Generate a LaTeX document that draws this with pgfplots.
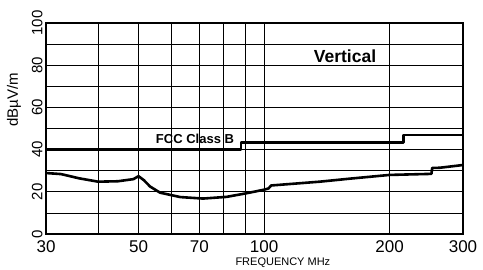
\documentclass[border=0pt]{standalone}
\usepackage{fontspec}
\setmainfont{Liberation Sans}
\usepackage{pgfplots}
\pgfplotsset{compat=1.18}
\begin{document}
\begin{tikzpicture}
\begin{semilogxaxis}[
  name=ax,
  width=417pt, height=211pt, scale only axis,
  xmin=30, xmax=300, ymin=0, ymax=100,
  xtick={30,40,50,60,70,80,90,100,200,300},
  xticklabels={30,,50,,70,,,100,200,300},
  minor xtick={},
  ytick={0,20,40,60,80,100},
  minor ytick={10,30,50,70,90},
  grid=both,
  major grid style={black, line width=0.8pt},
  minor grid style={black, line width=0.8pt},
  major tick length=0pt, minor tick length=0pt,
  axis line style={black, line width=1.2pt},
  /pgf/number format/assume math mode=true,
  xticklabel style={font=\fontsize{17}{17}\selectfont, yshift=-3pt},
  yticklabel style={font=\fontsize{15}{15}\selectfont, rotate=90, anchor=south},
  xlabel={FREQUENCY MHz},
  xlabel style={at={(axis description cs:0.568,-0.137)}, anchor=center, font=\fontsize{11}{11}\selectfont},
  ylabel={dBµV/m},
  ylabel style={at={(axis description cs:-0.077,0.635)}, anchor=center, font=\fontsize{15}{15}\selectfont},
  clip=false,
]
\addplot[black, line width=2.6pt, line join=round] coordinates {
  (30,40) (88,40) (88,43.3) (216,43.3) (216,47) (300,47)
};
\addplot[black, line width=2.6pt, line join=round] coordinates {
  (30,28.9) (32.6,28.4) (36,26.4) (40,24.8) (44.6,25.0) (48.6,26.0) (50,27.4)
  (51.5,25.5) (53.3,22.5) (56.3,19.6) (60,18.4) (63,17.5) (71.4,16.8)
  (81.3,17.6) (90.7,19.3) (100,21.0) (102.5,21.6) (104,23.0) (136,24.8)
  (160,26.2) (200,28.0) (252,28.5) (253,31.3) (264,31.4) (300,32.7)
};
\node[font=\bfseries\fontsize{17.5}{17.5}\selectfont] at (axis cs:156.4,84.4) {Vertical};
\node[font=\bfseries\fontsize{13}{13}\selectfont] at (axis cs:68.3,45) {FCC Class B};
\end{semilogxaxis}
\pgfresetboundingbox
\path (ax.south west) ++(-46pt,-35pt) rectangle ([shift={(20pt,23pt)}]ax.north east);
\end{tikzpicture}
\end{document}
